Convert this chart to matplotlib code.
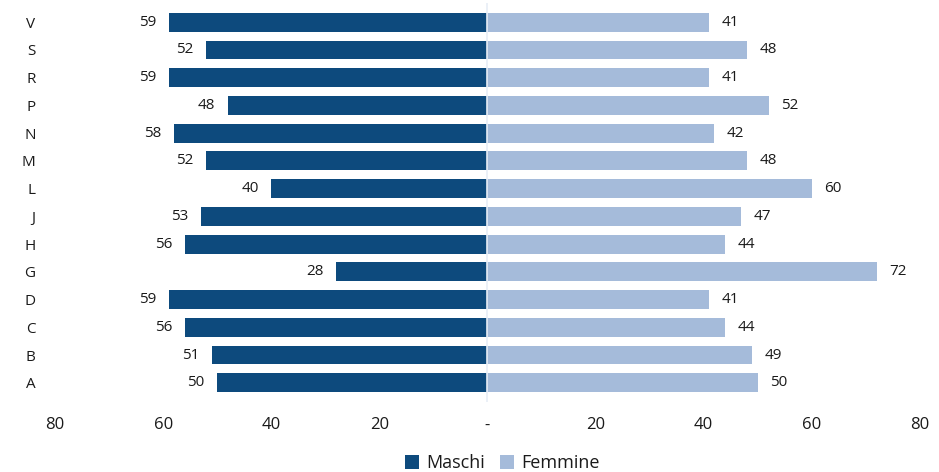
import matplotlib.pyplot as plt
import numpy as np

# share by sex for each group (percent)
categorie = ["A", "B", "C", "D", "G", "H", "J", "L", "M", "N", "P", "R", "S", "V"]
maschi = [50, 51, 56, 59, 28, 56, 53, 40, 52, 58, 48, 59, 52, 59]
femmine = [50, 49, 44, 41, 72, 44, 47, 60, 48, 42, 52, 41, 48, 41]
tick_vals = [-80, -60, -40, -20, 0, 20, 40, 60, 80]
tick_labels = ["80", "60", "40", "20", "-", "20", "40", "60", "80"]

col_m = "#0d4a7d"
col_f = "#a5bbda"
txt = "#1a1a1a"

plt.rcParams['font.family'] = ['Open Sans', 'DejaVu Sans']

fig = plt.figure(figsize=(9.39, 4.72), dpi=100)
ax = fig.add_axes([0.0586, 0.148, 0.921, 0.846])

y = np.arange(len(categorie))
ax.barh(y, [-v for v in maschi], height=0.68, color=col_m, label="Maschi")
ax.barh(y, femmine, height=0.68, color=col_f, label="Femmine")
ax.axvline(0, color="#e8eef6", lw=1.2)

for yi, m, f in zip(y, maschi, femmine):
    ax.annotate(str(m), (-m, yi), xytext=(-9, 0), textcoords="offset points",
                ha="right", va="center", fontsize=11, color=txt)
    ax.annotate(str(f), (f, yi), xytext=(9, 0), textcoords="offset points",
                ha="left", va="center", fontsize=11, color=txt)

ax.set_xlim(-80, 80)
ax.set_ylim(-0.7, 13.7)
ax.set_yticks(y)
ax.set_yticklabels(categorie, fontsize=11, color=txt)
ax.set_xticks(tick_vals)
ax.set_xticklabels(tick_labels, fontsize=12, color=txt)
ax.tick_params(axis="y", length=0, pad=14)
ax.tick_params(axis="x", length=0, pad=11)
for s in ax.spines.values():
    s.set_visible(False)

fig.legend(loc="lower center", bbox_to_anchor=(0.535, -0.035), ncol=2, frameon=False,
           fontsize=13, handlelength=0.8, handleheight=0.8, handletextpad=0.4,
           columnspacing=0.8, labelcolor=txt)

fig.savefig("out.png", dpi=100)
